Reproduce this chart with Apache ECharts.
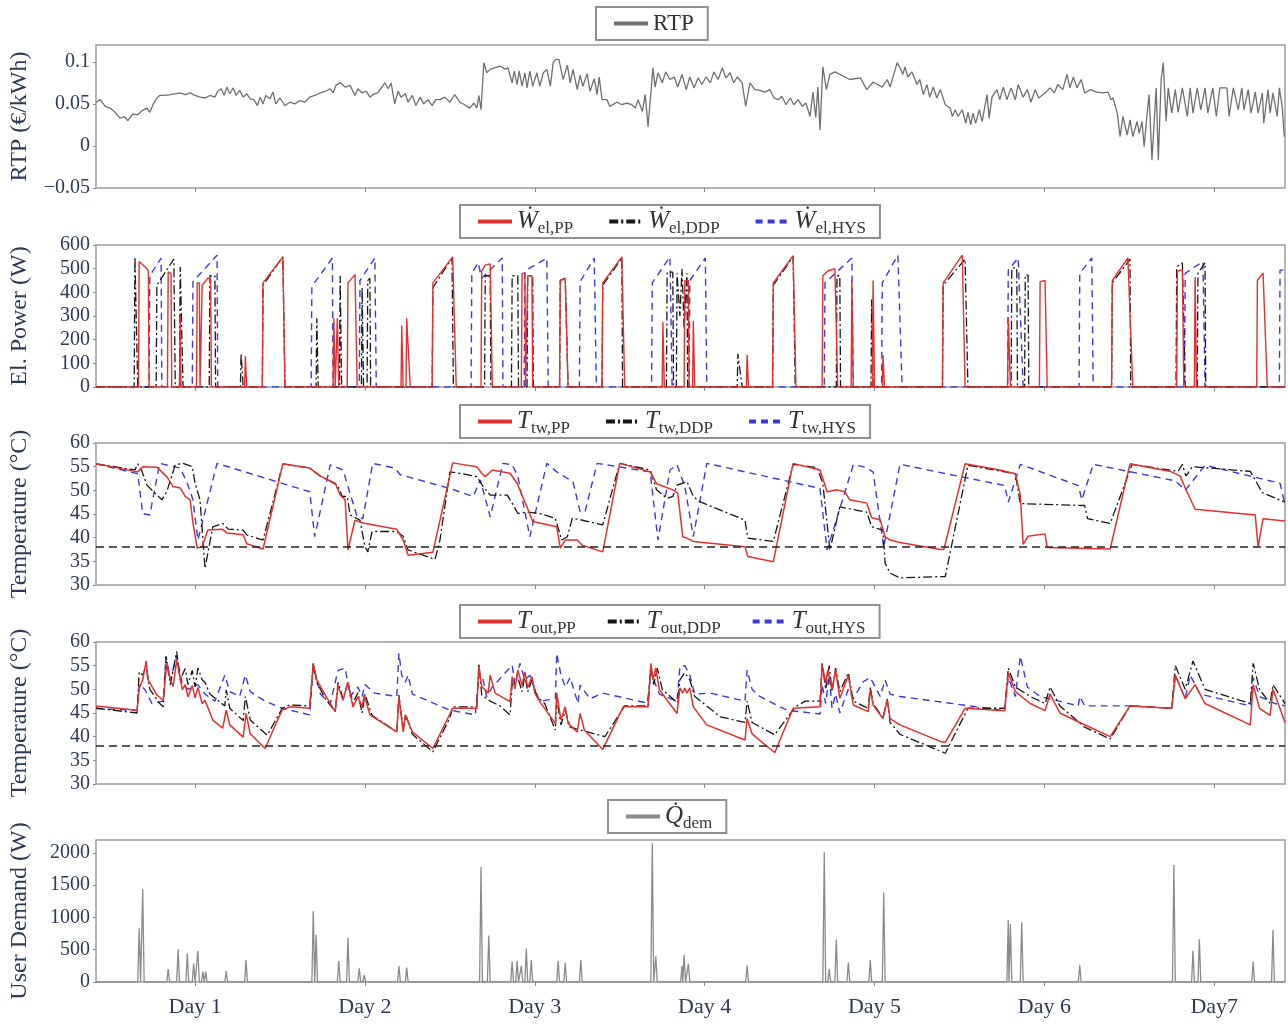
<!DOCTYPE html>
<html>
<head>
<meta charset="utf-8">
<script src="https://cdn.jsdelivr.net/npm/echarts@6/dist/echarts.min.js"></script>
<style>
  html, body { margin: 0; padding: 0; background: #fff; }
  #chart { width: 1288px; height: 1025px; }
</style>
</head>
<body>
<div id="chart"></div>
<script>
// time axis in hours (0..168), one tick per day
const dayTicks = [14, 38, 62, 86, 110, 134, 158];
const dayLabels = ['Day 1', 'Day 2', 'Day 3', 'Day 4', 'Day 5', 'Day 6', 'Day7'];

// real-time price (€/kWh)
const rtp = [[0,0.052],[0.6,0.055],[1.3,0.047],[2.0,0.045],[2.7,0.040],[3.4,0.033],[4.0,0.035],[4.5,0.030],[5.2,0.038],[5.9,0.037],[6.5,0.042],[7.2,0.045],[7.6,0.040],[8.1,0.050],[8.6,0.057],[9.0,0.060],[9.7,0.060],[10.5,0.061],[11.2,0.062],[11.9,0.063],[12.6,0.061],[13.3,0.063],[14.0,0.060],[14.7,0.058],[15.4,0.057],[16.1,0.060],[16.8,0.058],[17.2,0.065],[17.7,0.068],[18.1,0.060],[18.5,0.070],[18.9,0.062],[19.4,0.069],[19.8,0.060],[20.3,0.066],[20.8,0.058],[21.3,0.062],[21.8,0.056],[22.3,0.055],[22.8,0.048],[23.2,0.058],[23.6,0.050],[24.0,0.060],[24.6,0.056],[25.0,0.064],[25.4,0.050],[26.0,0.057],[26.7,0.048],[27.4,0.052],[28.1,0.050],[28.8,0.054],[29.5,0.052],[30.2,0.058],[30.9,0.060],[31.7,0.063],[32.4,0.065],[33.1,0.068],[33.5,0.063],[33.9,0.072],[34.5,0.075],[35.2,0.070],[35.9,0.072],[36.6,0.060],[37.0,0.068],[37.6,0.063],[38.2,0.065],[38.7,0.058],[39.3,0.062],[39.8,0.063],[40.4,0.070],[40.8,0.075],[41.3,0.068],[41.7,0.075],[42.2,0.050],[42.7,0.065],[43.1,0.058],[43.7,0.062],[44.1,0.052],[44.7,0.060],[45.2,0.048],[45.8,0.058],[46.3,0.050],[46.9,0.055],[47.5,0.048],[48.0,0.055],[48.6,0.055],[49.3,0.058],[50.0,0.052],[50.7,0.061],[51.4,0.052],[52.1,0.049],[52.8,0.045],[53.4,0.051],[53.8,0.045],[54.1,0.060],[54.4,0.043],
  [54.8,0.099],[55.2,0.087],[55.7,0.091],[56.4,0.093],[57.1,0.095],[57.8,0.091],[58.2,0.093],[58.8,0.075],[59.1,0.089],[59.5,0.073],[59.8,0.089],[60.2,0.071],[60.6,0.087],[60.9,0.069],[61.3,0.089],[61.7,0.071],[62.3,0.087],[62.7,0.071],[63.2,0.087],[63.7,0.091],[64.2,0.071],[64.6,0.099],[65.0,0.103],[65.4,0.103],[66.0,0.079],[66.6,0.096],[67.0,0.075],[67.4,0.091],[68.0,0.067],[68.4,0.084],[68.8,0.071],[69.4,0.086],[69.8,0.065],[70.4,0.080],[70.8,0.061],[71.1,0.082],[71.5,0.055],[72.2,0.055],[72.6,0.047],[73.6,0.052],[74.3,0.049],[75.0,0.051],[75.7,0.049],[76.2,0.045],[76.6,0.055],[77.2,0.041],[77.6,0.061],[78.0,0.023],[78.7,0.093],
  [79.0,0.070],[79.4,0.087],[80.0,0.075],[80.5,0.088],[81.1,0.079],[81.7,0.082],[82.2,0.070],[82.8,0.085],[83.4,0.067],[83.9,0.082],[84.5,0.069],[85.1,0.081],[85.6,0.073],[86.2,0.082],[86.8,0.075],[87.3,0.088],[87.9,0.079],[88.5,0.093],[89.0,0.081],[89.6,0.087],[90.1,0.075],[90.6,0.082],[91.3,0.075],[91.8,0.047],[92.4,0.075],[93.1,0.067],[93.8,0.066],[94.5,0.064],[95.2,0.067],[95.8,0.057],[96.4,0.055],[96.9,0.059],[97.5,0.049],[98.1,0.057],[98.6,0.049],[99.2,0.055],[99.8,0.047],[100.3,0.051],[100.9,0.035],[101.3,0.064],[101.7,0.034],[102.0,0.070],[102.3,0.019],[102.7,0.094],[103.2,0.067],[103.7,0.085],[104.4,0.088],[105.1,0.085],[105.8,0.082],
  [106.5,0.079],[108.0,0.081],[108.9,0.067],[109.8,0.076],[111.1,0.070],[111.8,0.079],[112.2,0.070],[113.2,0.099],[113.6,0.093],[114.0,0.085],[114.3,0.094],[114.7,0.082],[115.3,0.088],[116.0,0.073],[116.4,0.079],[116.9,0.061],[117.4,0.073],[117.8,0.058],[118.3,0.070],[118.8,0.057],[119.3,0.067],[120.0,0.049],[120.7,0.045],[121.0,0.035],[121.4,0.043],[121.8,0.035],[122.4,0.043],[122.9,0.027],[123.2,0.040],[123.6,0.025],[123.9,0.039],[124.3,0.027],[124.8,0.043],[125.2,0.029],[125.9,0.061],[126.2,0.033],[126.6,0.058],[127.3,0.067],[127.7,0.055],[128.2,0.070],[128.7,0.055],[129.3,0.069],[129.9,0.055],[130.3,0.073],[131.0,0.058],[131.6,0.067],[132.1,0.052],[132.7,0.067],[133.2,0.057],[134.1,0.063],[134.8,0.069],[135.4,0.063],[135.9,0.073],[136.6,0.067],[137.2,0.085],[137.6,0.069],[138.1,0.082],[138.6,0.069],[139.2,0.079],[139.7,0.063],[140.5,0.067],[141.4,0.064],[142.3,0.063],[143.0,0.064],[143.4,0.055],[143.7,0.057],[144.3,0.039],[144.7,0.011],[145.1,0.035],[145.7,0.013],[146.1,0.031],[146.5,0.011],[147.1,0.029],[147.4,0.015],[147.8,0.029],[148.1,-0.001],[148.5,0.037],[148.8,0.061],[149.2,-0.017],[149.8,0.069],[150.1,-0.017],[150.5,0.079],[150.8,0.099],[151.2,0.029],[151.5,0.069],[152.0,0.039],[152.5,0.067],[152.9,0.040],[153.5,0.069],[154.2,0.035],[154.6,0.069],[155.0,0.039],[155.6,0.069],[156.1,0.043],[156.7,0.069],[157.1,0.039],[157.8,0.069],[158.3,0.035],[158.8,0.069],[159.8,0.069],[160.1,0.035],[160.7,0.069],[161.4,0.043],[161.9,0.069],[162.2,0.043],[162.8,0.067],[163.2,0.039],[163.8,0.064],[164.2,0.039],[164.8,0.063],[165.0,0.027],[165.6,0.067],[165.9,0.039],[166.3,0.063],[166.9,0.035],[167.2,0.069],[167.6,0.047],[167.9,0.011]];

// electrical power (W)
const wPP = [[0,0],[6.0,0],[6.1,530],[7.2,500],[7.4,490],[7.5,0],[10.1,0],[10.2,487],[10.6,480],[10.7,0],[11.8,0],[11.9,300],[12.0,0],[14.2,0],[14.3,440],[14.6,440],[14.7,0],[14.9,0],[15.0,430],[15.8,460],[16.2,455],[16.3,0],[21.0,0],[21.1,130],[21.3,0],[23.5,0],[23.6,440],[26.4,550],[26.7,0],[33.5,0],[33.6,290],[33.8,0],[34.0,0],[34.1,290],[34.3,0],[35.5,0],[35.6,440],[36.6,475],[36.9,0],[43.1,0],[43.2,260],[43.4,0],[43.8,0],[43.9,290],[44.4,0],[47.5,0],[47.6,440],[50.4,550],[50.9,0],[54.4,0],[54.5,490],[55.0,515],[55.7,520],[56.0,0],[60.1,0],[60.2,480],[60.6,480],[60.7,0],[60.9,0],[61.0,470],[61.6,470],[61.7,0],[65.5,0],[65.6,450],[66.3,460],[66.7,0],[71.5,0],[71.6,440],[74.3,550],[74.7,0],[80.0,0],[80.1,275],[80.3,0],[83.1,0],[83.2,450],[83.7,450],[83.8,0],[84.3,0],[84.4,280],[84.6,0],[91.9,0],[92.0,135],[92.2,0],[95.6,0],[95.7,440],[98.5,555],[98.9,0],[102.6,0],[102.7,470],[103.4,490],[104.4,500],[104.8,0],[106.7,0],[106.8,450],[107.0,0],[109.7,0],[109.8,450],[110.0,0],[111.1,0],[111.2,135],[111.4,0],[119.6,0],[119.7,440],[122.4,557],[122.8,0],[128.8,0],[128.9,296],[129.2,0],[133.3,0],[133.4,445],[134.1,450],[134.4,0],[143.5,0],[143.6,450],[145.8,545],[146.5,0],[152.7,0],[152.8,490],[153.5,495],[153.7,0],[155.2,0],[155.3,465],[155.5,0],[164.0,0],[164.1,450],[164.9,482],[165.5,0],[168,0]];
const wDDP = [[0,0],[5.4,0],[5.5,550],[5.9,0],[8.5,0],[8.6,430],[11.0,540],[11.2,0],[11.8,0],[11.9,507],[12.3,0],[16.0,0],[16.1,470],[16.8,470],[16.9,0],[20.4,0],[20.5,140],[20.8,0],[23.5,0],[23.6,430],[26.4,550],[26.7,0],[31.1,0],[31.2,290],[31.4,0],[34.4,0],[34.5,470],[34.7,0],[37.5,0],[37.6,420],[37.8,0],[38.3,0],[38.4,450],[38.7,460],[38.8,0],[47.5,0],[47.6,420],[50.3,545],[50.5,0],[54.9,0],[55.0,470],[55.7,470],[55.8,0],[58.7,0],[58.8,470],[59.6,470],[59.7,0],[60.9,0],[61.0,470],[61.7,470],[61.8,0],[65.5,0],[65.6,450],[66.3,460],[66.7,0],[71.5,0],[71.6,430],[74.3,545],[74.4,0],[80.6,0],[80.7,485],[81.5,485],[81.6,0],[82.0,0],[82.1,480],[82.5,300],[82.8,500],[83.1,250],[83.5,480],[83.6,0],[90.6,0],[90.7,140],[91.3,0],[95.6,0],[95.7,430],[98.5,550],[98.8,0],[104.6,0],[104.7,470],[105.1,470],[105.2,0],[109.5,0],[109.6,370],[109.8,0],[119.6,0],[119.7,430],[122.8,540],[123.2,0],[129.3,0],[129.4,503],[130.1,503],[130.2,0],[131.2,0],[131.3,473],[131.7,473],[131.8,0],[143.5,0],[143.6,440],[146.1,540],[146.2,0],[152.6,0],[152.7,507],[153.5,525],[153.9,0],[155.6,0],[155.7,480],[156.7,525],[156.8,0],[168,0]];
const wHYS = [[0,0],[7.5,0],[7.6,470],[9.2,545],[9.3,0],[13.6,0],[13.7,445],[17.1,557],[17.2,0],[30.4,0],[30.5,425],[33.4,545],[33.5,0],[37.2,0],[37.3,450],[39.4,545],[39.6,0],[53.0,0],[53.1,480],[54.0,525],[54.5,460],[57.4,545],[57.5,0],[60.5,0],[60.6,490],[63.7,545],[63.9,0],[68.3,0],[68.4,445],[70.4,545],[70.7,0],[78.5,0],[78.6,440],[81.1,550],[81.4,0],[83.8,0],[83.9,450],[86.1,545],[86.3,0],[102.9,0],[103.0,440],[106.8,545],[107.0,0],[111.0,0],[111.1,440],[113.3,557],[113.9,0],[128.8,0],[128.9,494],[130.3,545],[131.0,0],[138.9,0],[139.0,480],[140.7,545],[140.9,0],[153.8,0],[153.9,480],[156.4,530],[156.7,0],[167.2,0],[167.3,494],[168,494]];

// tap water temperature (°C)
const twPP = [[0,55.6],[5.9,53.9],[6.6,55.0],[8.6,54.9],[10.0,52.9],[10.9,50.8],[11.9,50.5],[12.6,48.7],[13.3,48.0],[13.7,43.1],[14.3,37.8],[15.0,38.1],[15.8,41.6],[17.8,41.8],[18.5,41.0],[20.8,40.6],[21.3,38.7],[23.6,37.6],[26.4,55.6],[30.2,54.7],[31.7,53.0],[33.8,51.5],[34.5,49.0],[35.2,48.0],[35.6,37.4],[36.6,43.7],[37.7,43.1],[42.5,41.8],[43.4,39.5],[44.1,36.3],[47.6,36.9],[50.4,55.8],[53.8,55.0],[54.5,53.6],[55.0,52.9],[56.0,54.3],[58.5,53.6],[59.5,51.5],[60.3,48.6],[60.9,46.5],[61.7,43.4],[65.1,42.3],[65.6,37.8],[66.3,39.5],[68.0,39.5],[68.7,38.4],[71.6,37.0],[74.0,55.7],[78.3,53.9],[79.2,51.4],[81.5,50.1],[82.2,49.4],[82.9,40.2],[83.5,39.9],[84.4,39.2],[91.7,38.1],[92.1,36.0],[95.7,34.9],[98.5,55.7],[102.3,54.3],[103.3,49.7],[104.7,50.1],[105.8,49.7],[106.5,48.0],[108.9,47.3],[109.6,44.2],[110.8,43.8],[111.5,40.2],[112.2,39.5],[113.6,39.0],[119.3,37.5],[119.8,37.5],[122.8,55.6],[127.7,54.3],[129.9,53.5],[130.6,49.0],[131.0,38.6],[131.7,40.3],[134.1,40.8],[134.4,37.9],[143.3,37.6],[146.1,55.6],[151.8,54.0],[153.2,53.0],[153.9,50.5],[155.3,46.0],[163.8,44.8],[164.2,38.0],[164.9,44.0],[168,43.5]];
const twDDP = [[0,55.6],[5.5,54.3],[5.9,55.6],[6.5,54.0],[7.2,51.1],[9.3,48.0],[10.0,49.7],[11.2,55.4],[12.3,55.7],[13.6,55.0],[14.0,51.5],[14.7,48.0],[15.4,33.5],[16.5,42.3],[17.9,43.0],[18.7,41.8],[20.8,41.6],[21.3,40.6],[23.6,39.5],[26.4,55.6],[30.2,54.7],[31.7,53.0],[34.1,51.1],[34.8,48.7],[35.5,48.7],[35.9,44.8],[37.3,43.7],[38.0,38.1],[38.4,37.0],[39.0,41.3],[42.5,41.3],[43.4,40.3],[44.1,37.4],[47.9,35.4],[48.6,39.5],[50.0,53.9],[51.4,53.6],[53.8,52.9],[54.7,50.8],[55.7,49.0],[58.1,49.0],[58.8,47.3],[59.6,45.1],[60.9,45.4],[62.7,45.1],[64.9,44.1],[65.8,39.5],[66.6,40.2],[67.3,44.1],[68.4,43.8],[71.6,42.7],[74.0,55.7],[78.3,54.3],[79.2,50.1],[80.7,48.3],[81.5,48.7],[82.1,51.1],[83.5,51.8],[84.4,48.7],[85.3,47.6],[91.7,43.7],[92.1,39.9],[95.7,39.2],[98.5,55.5],[101.9,54.8],[102.7,51.4],[103.7,37.4],[105.1,46.5],[108.9,45.4],[109.6,42.3],[111.2,41.6],[111.5,34.6],[112.2,32.5],[113.6,31.5],[120.0,31.8],[123.2,55.3],[129.9,53.5],[130.6,47.2],[139.7,46.8],[140.1,44.0],[143.3,43.0],[146.4,55.5],[152.9,54.0],[153.5,55.5],[154.0,53.0],[154.9,55.0],[163.1,54.0],[164.8,49.5],[168,47.5]];
const twHYS = [[0,55.6],[5.9,53.5],[6.6,45.1],[7.6,44.8],[9.0,55.7],[11.9,54.7],[12.9,51.5],[13.7,48.0],[14.4,39.5],[17.1,55.7],[30.2,49.7],[30.9,40.2],[33.1,55.4],[34.9,54.3],[36.9,44.4],[37.7,44.0],[39.1,55.7],[42.2,54.7],[43.0,53.3],[50.0,50.4],[53.3,48.7],[54.3,52.2],[55.7,44.4],[57.5,55.7],[58.8,55.4],[59.6,53.0],[61.3,40.2],[63.7,55.7],[65.1,53.9],[67.4,51.8],[68.4,45.5],[69.1,45.5],[70.8,55.7],[78.3,53.9],[79.4,39.5],[81.1,54.3],[82.1,55.4],[83.2,50.8],[84.4,40.2],[86.3,55.7],[102.3,50.4],[103.3,37.4],[107.0,55.4],[108.4,55.0],[109.8,53.9],[111.3,38.0],[113.6,55.5],[128.4,51.0],[128.9,47.5],[130.6,55.5],[138.8,51.0],[139.3,48.0],[140.9,55.5],[152.5,52.0],[153.9,50.0],[156.7,55.3],[167.3,51.5],[168,47.0]];

// outlet temperature (°C)
const outPP = [[0,46.5],[5.8,45.6],[6.1,50.2],[6.6,52.0],[7.1,56.0],[7.3,52.2],[8.6,48.8],[9.5,47.7],[10.0,55.5],[10.5,52.0],[10.9,50.6],[11.4,56.2],[12.2,49.9],[12.6,51.0],[13.0,48.4],[13.6,50.8],[14.0,48.2],[14.4,50.4],[15.0,47.0],[15.4,47.7],[16.5,43.5],[17.9,41.8],[18.4,45.6],[18.9,42.5],[20.8,39.9],[21.2,44.9],[21.8,40.6],[23.9,37.5],[25.0,41.3],[26.3,45.6],[27.4,46.3],[30.2,46.0],[30.7,55.5],[31.2,52.0],[32.4,48.8],[33.8,45.3],[34.2,50.8],[34.9,47.7],[35.6,51.5],[36.3,46.3],[37.0,48.4],[37.6,46.3],[37.9,48.8],[38.7,44.6],[42.5,41.0],[42.8,48.4],[43.4,41.0],[43.7,44.6],[44.7,41.0],[47.6,37.5],[50.4,46.0],[53.8,46.0],[54.1,54.8],[54.5,50.6],[55.4,49.2],[55.7,53.0],[56.4,49.2],[58.5,47.4],[58.8,52.7],[59.2,50.1],[59.6,54.1],[60.2,50.8],[60.6,53.7],[61.0,50.4],[61.6,52.7],[62.0,49.2],[62.7,47.4],[64.9,42.8],[65.1,49.2],[65.7,43.5],[66.3,46.3],[66.7,42.8],[68.0,41.0],[68.4,44.9],[69.0,41.4],[71.6,37.3],[74.5,46.3],[78.0,46.3],[78.4,55.5],[78.7,52.0],[79.1,54.5],[79.6,49.9],[82.1,44.9],[82.5,50.3],[82.9,49.2],[83.2,50.3],[83.5,49.2],[83.9,50.3],[84.4,46.3],[86.3,42.5],[91.7,39.3],[92.0,43.8],[92.7,40.6],[95.9,36.6],[98.5,46.0],[102.3,46.3],[102.6,55.1],[103.1,51.3],[103.4,54.1],[104.0,49.9],[104.5,54.1],[105.1,48.1],[106.3,52.9],[107.0,46.7],[109.1,45.3],[109.4,49.9],[109.8,46.7],[111.2,43.8],[111.8,47.8],[112.2,43.8],[113.6,42.5],[119.3,39.0],[120.0,38.8],[122.8,46.0],[128.4,45.5],[128.9,53.5],[129.9,49.5],[132.0,47.0],[134.1,45.5],[134.8,49.0],[136.2,45.0],[139.0,43.0],[143.3,40.0],[146.1,46.5],[152.0,46.0],[152.5,53.0],[153.9,48.0],[155.3,51.0],[156.7,47.0],[163.1,42.5],[163.5,51.0],[164.4,46.0],[165.9,44.5],[166.3,50.0],[168,43.0]];
const outDDP = [[0,46.0],[5.8,45.0],[6.1,53.7],[6.6,53.0],[7.1,55.0],[7.6,50.0],[9.0,47.0],[9.5,46.3],[9.9,56.9],[10.5,51.0],[11.4,58.0],[11.9,52.0],[12.6,54.4],[13.0,51.0],[13.6,54.0],[14.0,50.5],[14.4,54.5],[15.0,52.0],[15.4,51.5],[16.1,49.0],[18.2,46.5],[18.4,49.9],[18.9,46.0],[20.8,43.4],[21.1,48.5],[21.8,43.5],[24.2,40.3],[26.3,46.0],[27.4,46.7],[30.2,46.5],[30.7,55.5],[31.2,51.5],[32.4,48.0],[33.8,45.3],[34.2,51.5],[34.9,48.0],[35.6,51.5],[36.3,47.0],[37.0,49.3],[37.6,45.0],[38.0,49.0],[39.0,44.5],[42.5,41.0],[42.8,48.8],[43.4,41.5],[43.8,44.5],[44.7,40.5],[47.6,36.8],[50.0,44.0],[50.4,46.3],[53.8,46.3],[54.1,55.5],[54.5,48.8],[55.7,47.5],[57.1,46.5],[58.5,44.6],[58.8,51.0],[59.6,52.5],[60.2,49.5],[60.6,53.0],[61.0,49.5],[61.6,52.0],[62.3,48.5],[63.4,47.0],[64.9,41.4],[65.1,48.0],[65.7,42.5],[66.3,45.5],[67.0,42.0],[71.9,40.0],[74.7,46.5],[78.0,46.5],[78.4,55.0],[78.8,51.0],[79.3,54.5],[80.0,50.0],[82.2,47.1],[82.5,52.0],[83.2,53.5],[83.9,52.0],[84.6,48.5],[88.2,44.2],[91.7,43.0],[92.0,47.5],[92.7,43.0],[95.9,40.4],[98.8,46.3],[100.2,47.5],[102.3,47.5],[102.6,55.5],[103.1,50.0],[103.6,55.0],[104.0,49.5],[104.5,54.5],[105.1,49.5],[106.3,53.5],[107.0,47.5],[109.1,46.0],[109.4,50.5],[109.8,47.0],[111.2,44.0],[111.8,48.0],[112.2,43.0],[113.6,40.5],[120.0,36.5],[123.2,46.0],[128.4,46.0],[128.9,54.5],[129.9,50.5],[132.0,48.5],[134.1,47.0],[134.8,50.5],[136.2,46.5],[139.7,42.0],[143.3,39.5],[146.1,46.5],[152.0,46.0],[152.5,55.0],[153.9,50.0],[155.0,56.0],[156.7,50.0],[163.1,47.0],[163.5,55.5],[164.4,50.0],[165.9,47.0],[166.3,51.0],[168,47.0]];
const outHYS = [[0,46.0],[5.8,45.5],[6.1,51.0],[6.9,50.0],[7.9,47.0],[9.5,47.5],[9.9,57.0],[10.5,52.0],[11.4,57.0],[12.2,51.0],[13.0,50.0],[14.4,51.0],[15.4,49.0],[16.8,47.5],[18.2,53.0],[18.9,49.5],[20.3,48.5],[21.1,53.0],[21.8,49.5],[23.9,47.5],[26.3,46.0],[30.2,44.6],[30.7,55.0],[31.7,49.0],[33.1,47.0],[34.2,54.0],[35.2,54.5],[35.9,48.5],[37.0,50.5],[37.6,48.5],[38.0,51.0],[39.4,49.2],[42.5,48.5],[42.8,57.6],[43.2,53.0],[43.7,51.5],[44.1,53.0],[44.7,49.0],[50.0,45.6],[53.6,44.6],[54.1,53.5],[54.7,52.0],[55.2,48.4],[56.0,50.5],[58.8,55.1],[59.2,51.0],[59.9,55.5],[60.6,52.0],[61.3,53.0],[62.0,50.0],[62.7,47.5],[64.9,48.0],[65.1,57.6],[65.7,53.0],[66.3,50.5],[67.0,52.5],[68.1,47.0],[68.4,50.9],[69.8,48.0],[71.6,49.2],[77.9,47.1],[78.4,53.5],[79.6,49.0],[82.1,47.5],[82.5,54.8],[83.2,55.0],[83.9,53.0],[84.6,49.0],[86.8,49.2],[91.7,47.5],[92.0,54.1],[92.7,50.0],[93.8,48.5],[97.6,45.6],[102.3,44.8],[102.6,51.0],[103.1,47.0],[103.6,53.0],[104.0,46.0],[104.5,49.0],[105.1,45.0],[106.3,50.0],[107.0,48.0],[108.4,51.6],[109.4,52.5],[110.8,48.5],[111.5,52.0],[112.2,49.0],[113.6,48.5],[128.4,45.5],[128.9,52.5],[129.9,48.5],[130.6,57.0],[131.6,50.5],[133.4,48.5],[138.8,46.5],[139.0,48.5],[139.7,46.5],[146.1,46.5],[152.0,46.0],[152.5,53.0],[153.2,50.5],[153.9,48.0],[154.6,53.0],[156.0,49.0],[163.1,46.5],[163.5,52.5],[164.4,48.5],[166.6,47.0],[168,46.5]];
const tempLimit = 38;

// user demand peaks (hour, W)
const demandHours = [6.1, 6.6, 10.2, 11.6, 12.9, 13.8, 14.4, 15.1, 15.5, 18.4, 21.2, 30.7, 31.1, 34.3, 35.6, 37.2, 37.9, 42.8, 43.9, 54.4, 55.5, 58.8, 59.5, 60.1, 60.8, 61.5, 65.3, 66.3, 68.5, 78.6, 79.1, 82.8, 83.1, 83.7, 92.0, 102.9, 103.6, 104.6, 106.3, 109.4, 111.3, 128.9, 129.2, 130.8, 139.0, 152.3, 155.0, 155.9, 163.5, 166.3];
const demandPeaks = [832, 1437, 200, 507, 445, 290, 480, 160, 160, 170, 340, 1100, 730, 325, 687, 212, 108, 248, 222, 1780, 720, 320, 330, 250, 520, 340, 330, 300, 340, 2150, 400, 250, 420, 280, 260, 2010, 200, 660, 300, 340, 1385, 960, 900, 925, 263, 1813, 485, 661, 315, 806];

const demand = [[0, 0], [168, 0]];
demandHours.forEach((h, i) => demand.push([h - 0.2, 0], [h, demandPeaks[i]], [h + 0.2, 0]));
demand.sort((a, b) => a[0] - b[0]);

const serif = 'Liberation Serif';
const ink = '#2d3a55';
const RED = '#e3302f', BLACK = '#151515', BLUE = '#3a3ad8';
const dashDot = [9, 3, 2, 3];
const dashed = [7, 5];

const legendLabels = {
    'Wel,PP': ['Ẇ', 'el,PP'], 'Wel,DDP': ['Ẇ', 'el,DDP'], 'Wel,HYS': ['Ẇ', 'el,HYS'],
    'Ttw,PP': ['T', 'tw,PP'], 'Ttw,DDP': ['T', 'tw,DDP'], 'Ttw,HYS': ['T', 'tw,HYS'],
    'Tout,PP': ['T', 'out,PP'], 'Tout,DDP': ['T', 'out,DDP'], 'Tout,HYS': ['T', 'out,HYS'],
    'Qdem': ['Q̇', 'dem'],
};

const panels = [
    { top: 45, height: 143, name: 'RTP (€/kWh)', min: -0.05, max: 0.12, interval: 0.05, showMax: false },
    { top: 245, height: 142, name: 'El. Power (W)', min: 0, max: 600, interval: 100, showMax: true },
    { top: 443, height: 142, name: 'Temperature (°C)', min: 30, max: 60, interval: 5, showMax: true },
    { top: 642, height: 142, name: 'Temperature (°C)', min: 30, max: 60, interval: 5, showMax: true },
    { top: 840, height: 142, name: 'User Demand (W)', min: 0, max: 2200, interval: 500, showMax: false },
];

function legend(names, left, top, gap) {
    return {
        data: names, left, top, orient: 'horizontal',
        itemWidth: 34, itemHeight: 14, itemGap: gap,
        borderColor: '#8f8f8f', borderWidth: 2, padding: [1, 14, 1, 16],
        lineStyle: { width: 4 },
        itemStyle: { opacity: 0 },
        formatter: (n) => legendLabels[n] ? `{i|${legendLabels[n][0]}}{s|${legendLabels[n][1]}}` : n,
        textStyle: {
            fontFamily: serif, fontSize: 23, color: '#333', lineHeight: 31,
            rich: {
                i: { fontFamily: serif, fontStyle: 'italic', fontSize: 25, lineHeight: 31, color: '#333' },
                s: { fontFamily: serif, fontSize: 17, lineHeight: 12, verticalAlign: 'bottom', color: '#333' },
            },
        },
    };
}

function line(name, data, idx, color, type, width) {
    return {
        name, type: 'line', data, xAxisIndex: idx, yAxisIndex: idx,
        showSymbol: false, symbol: 'none', animation: false,
        lineStyle: { color, type, width },
        itemStyle: { color },
    };
}

const fmt = (v) => (v < 0 ? '\u2212' + Math.abs(v) : String(+v.toFixed(2)));

const option = {
    backgroundColor: '#fff',
    animation: false,
    grid: panels.map((p) => ({
        left: 96, right: 3, top: p.top, height: p.height,
        show: true, borderColor: '#9c9c9c', borderWidth: 1.5,
    })),
    xAxis: panels.map((p, i) => ({
        type: 'value', gridIndex: i, min: 0, max: 168,
        axisLine: { show: false, onZero: false },
        splitLine: { show: false },
        axisTick: { show: true, customValues: dayTicks, length: 4, lineStyle: { color: '#8a8a8a' } },
        axisLabel: {
            show: i === panels.length - 1, customValues: dayTicks, margin: 14,
            fontFamily: serif, fontSize: 22, color: ink,
            formatter: (v) => dayLabels[dayTicks.indexOf(v)],
        },
    })),
    yAxis: panels.map((p, i) => ({
        type: 'value', gridIndex: i, min: p.min, max: p.max, interval: p.interval,
        name: p.name, nameLocation: 'middle', nameGap: 64,
        nameTextStyle: { fontFamily: serif, fontSize: 24, color: ink },
        axisLine: { show: false, onZero: false },
        splitLine: { show: false },
        axisTick: { show: true, length: 3, lineStyle: { color: '#8a8a8a' } },
        axisLabel: { fontFamily: serif, fontSize: 20, color: ink, margin: 6, showMaxLabel: p.showMax, formatter: fmt },
    })),
    legend: [
        legend(['RTP'], 596, 7, 26),
        legend(['Wel,PP', 'Wel,DDP', 'Wel,HYS'], 460, 205, 34),
        legend(['Ttw,PP', 'Ttw,DDP', 'Ttw,HYS'], 460, 405, 34),
        legend(['Tout,PP', 'Tout,DDP', 'Tout,HYS'], 460, 605, 30),
        legend(['Qdem'], 608, 800, 26),
    ],
    series: [
        line('RTP', rtp, 0, '#6f6f6f', 'solid', 1.3),
        line('Wel,HYS', wHYS, 1, BLUE, dashed, 1.4),
        line('Wel,DDP', wDDP, 1, BLACK, dashDot, 1.3),
        line('Wel,PP', wPP, 1, RED, 'solid', 1.4),
        line('Ttw,HYS', twHYS, 2, BLUE, dashed, 1.4),
        line('Ttw,DDP', twDDP, 2, BLACK, dashDot, 1.3),
        Object.assign(line('Ttw,PP', twPP, 2, RED, 'solid', 1.5), {
            markLine: { silent: true, symbol: 'none', label: { show: false }, animation: false,
                lineStyle: { color: '#222', type: [8, 5], width: 1.5 }, data: [{ yAxis: tempLimit }] },
        }),
        line('Tout,HYS', outHYS, 3, BLUE, dashed, 1.4),
        line('Tout,DDP', outDDP, 3, BLACK, dashDot, 1.3),
        Object.assign(line('Tout,PP', outPP, 3, RED, 'solid', 1.5), {
            markLine: { silent: true, symbol: 'none', label: { show: false }, animation: false,
                lineStyle: { color: '#222', type: [8, 5], width: 1.5 }, data: [{ yAxis: tempLimit }] },
        }),
        line('Qdem', demand, 4, '#8a8a8a', 'solid', 1.3),
    ],
};

const chart = echarts.init(document.getElementById('chart'));
chart.setOption(option);
</script>
</body>
</html>
